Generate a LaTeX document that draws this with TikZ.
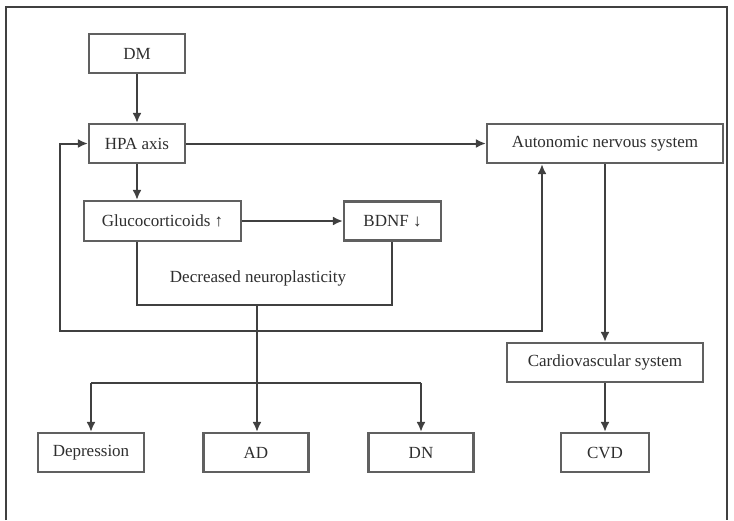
\documentclass[tikz,border=0pt]{standalone}
\usepackage{fontspec}
\setmainfont{Liberation Serif}
\usetikzlibrary{arrows.meta}
\definecolor{linec}{HTML}{404040}
\definecolor{boxc}{HTML}{606060}
\definecolor{textc}{HTML}{2E2E2E}
\begin{document}
\begin{tikzpicture}[x=1pt,y=-1pt,
  box/.style={draw=boxc,line width=2.2pt,inner sep=0pt,minimum height=39pt,
    text=textc,font=\fontsize{17}{19}\selectfont},
  conn/.style={draw=linec,line width=2pt},
  arr/.style={conn,-{Latex[length=10pt,width=9pt]}},
  darr/.style={conn,{Latex[length=10pt,width=9pt]}-{Latex[length=10pt,width=9pt]}}]
\useasboundingbox (0,0) rectangle (734,520);
\fill[white] (0,0) rectangle (734,520);
\draw[linec,line width=1.8pt] (6,520) -- (6,7) -- (727,7) -- (727,520);
% nodes
\node[box,minimum width=96pt]  (dm)   at (137,53.5)  {DM};
\node[box,minimum width=96pt]  (hpa)  at (137,143.5) {HPA axis};
\node[box,minimum width=236pt] (ans)  at (605,143.5) {Autonomic nervous system};
\node[box,minimum width=157pt,minimum height=40pt] (gc) at (162.5,221) {Glucocorticoids ↑};
\node[box,minimum width=97pt]  (bdnf) at (392.5,221) {BDNF ↓};
\node[text=textc,font=\fontsize{17}{19}\selectfont,inner sep=0pt] (dn) at (258,278) {Decreased neuroplasticity};
\node[box,minimum width=196pt] (cvs)  at (605,362.5) {Cardiovascular system};
\node[box,minimum width=106pt] (dep)  at (91,452.5)  {Depression};
\node[box,minimum width=105pt] (ad)   at (256,452.5) {AD};
\node[box,minimum width=105pt] (dnn)  at (421,452.5) {DN};
\node[box,minimum width=88pt]  (cvd)  at (605,452.5) {CVD};
% coordinates
\coordinate (bl) at (137,305);
\coordinate (br) at (392,305);
\coordinate (bm) at (257,305);
\coordinate (la) at (60,143.5);
\coordinate (lb) at (60,331);
\coordinate (lc) at (542,331);
\coordinate (ya) at (91,383);
\coordinate (yb) at (421,383);
% connectors
\draw[arr] (dm.south) -- (hpa.north);
\draw[arr] (hpa.south) -- (hpa.south |- gc.north);
\draw[arr] (hpa.east) -- (ans.west);
\draw[arr] (gc.east) -- (bdnf.west);
\draw[conn] (gc.south -| bl) -- (bl) -- (br) -- (bdnf.south -| br);
\draw[darr] (hpa.west) -- (la) -- (lb) -- (lc) -- (lc |- ans.south);
\draw[arr] (bm) -- (bm |- ad.north);
\draw[arr] (ya) -- (ya |- dep.north);
\draw[arr] (yb) -- (yb |- dnn.north);
\draw[conn] (ya) -- (yb);
\draw[arr] (ans.south) -- (cvs.north);
\draw[arr] (cvs.south) -- (cvd.north);
\end{tikzpicture}
\end{document}
